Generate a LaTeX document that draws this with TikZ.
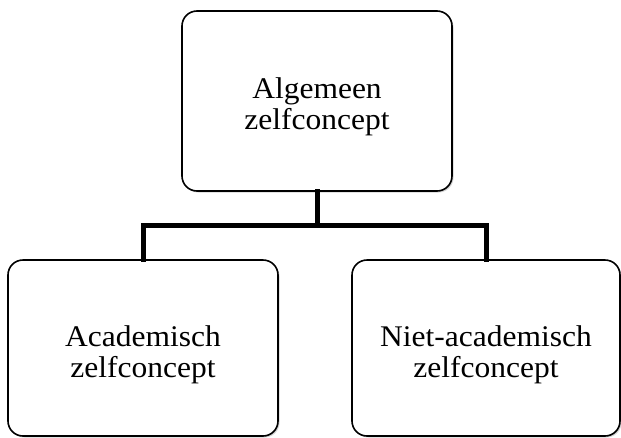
\documentclass[tikz,border=0pt]{standalone}
\usepackage{fontspec}
\setmainfont[FakeStretch=1.05]{Liberation Serif}
\usetikzlibrary{shadows}
\begin{document}
\begin{tikzpicture}[x=1pt,y=-1pt,
  box/.style={draw=black, line width=1.6pt, rounded corners=15pt, fill=white,
    inner sep=0pt,
    drop shadow={shadow xshift=1.5pt, shadow yshift=-1.5pt, fill=black!35, opacity=0.5}},
  lbl/.style={align=center, inner sep=0pt, font=\fontsize{30}{31}\selectfont},
  link/.style={line width=5pt, line cap=rect}]
  \useasboundingbox (0,0) rectangle (621,437);
  % hierarchy boxes
  \node[box, minimum width=270pt, minimum height=180pt] (alg) at (317,101) {};
  \node[box, minimum width=270pt, minimum height=176pt] (acad) at (143,348) {};
  \node[box, minimum width=268pt, minimum height=176pt] (niet) at (486,348) {};
  % box texts
  \node[lbl] (algT) at (317,107) {Algemeen\\zelfconcept};
  \node[lbl] (acadT) at (143,355) {Academisch\\zelfconcept};
  \node[lbl] (nietT) at (486,355) {Niet-academisch\\zelfconcept};
  % tree connector
  \coordinate (junc) at (317,225);
  \draw[link] (alg.south) -- (junc);
  \draw[link] (acad.north) |- (junc) -| (niet.north);
\end{tikzpicture}
\end{document}
